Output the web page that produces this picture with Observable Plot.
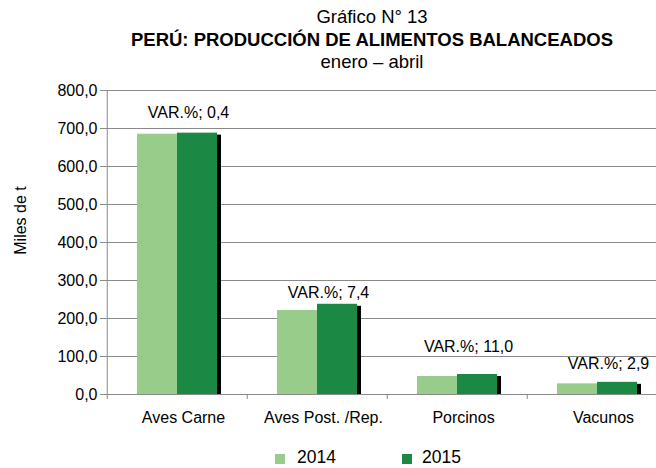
<!DOCTYPE html>
<html><head><meta charset="utf-8">
<script src="https://cdn.jsdelivr.net/npm/d3@7"></script>
<script src="https://cdn.jsdelivr.net/npm/@observablehq/plot@0.6"></script>
<style>
body{margin:0;background:#fff;font-family:"Liberation Sans",Arial,sans-serif;color:#000;}
#wrap{position:relative;width:656px;height:468px;overflow:hidden;background:#fff;}
.t{position:absolute;left:0;width:744px;text-align:center;white-space:nowrap;line-height:20px;font-size:18.5px;}
#chart{position:absolute;left:0;top:75px;}
#legend{position:absolute;top:449px;left:0;width:656px;height:17px;font-size:17.5px;line-height:17px;}
.sw{position:absolute;top:5px;width:10px;height:10px;}
.lt{position:absolute;top:0;}
</style></head><body>
<div id="wrap">
  <div class="t" id="t1" style="top:7px;">Gráfico N° 13</div>
  <div class="t" id="t2" style="top:30px;font-weight:bold;">PERÚ: PRODUCCIÓN DE ALIMENTOS BALANCEADOS</div>
  <div class="t" id="t3" style="top:52px;">enero – abril</div>
  <div id="chart"></div>
  <div id="legend"></div>
</div>
<script>
const categories = ["Aves Carne", "Aves Post. /Rep.", "Porcinos", "Vacunos"];
const series = ["2014", "2015"];
const values2014 = [685.0, 221.0, 47.4, 28.0];
const values2015 = [687.8, 237.4, 52.6, 32.0];
const variation = [0.4, 7.4, 11.0, 2.9];
const varLabelAt = [740, 268, 126, 81];
const yTicks = [0, 100, 200, 300, 400, 500, 600, 700, 800];

const colors = {"2014": "#97cc8b", "2015": "#1b8944"};
const grey = "#8a8a8a";

const data = categories.map((c, i) => ({
  cat: c, v2014: values2014[i], v2015: values2015[i], varp: variation[i], labelAt: varLabelAt[i]
}));
const fmt = v => v.toFixed(1).replace(".", ",");

const chart = Plot.plot({
  width: 656,
  height: 359,
  marginTop: 15,
  marginLeft: 106,
  marginRight: 0,
  marginBottom: 40,
  style: {fontFamily: "Liberation Sans, Arial, sans-serif", fontSize: "16px", color: "#000", background: "#fff"},
  x: {domain: categories, range: [106, 668], paddingInner: 0.4306, paddingOuter: 0.2153, label: null},
  y: {domain: [0, 800], label: null},
  marks: [
    Plot.gridY(yTicks, {stroke: grey, strokeOpacity: 1}),
    Plot.barY(data, {x: "cat", y: "v2015", fill: "#000", insetLeft: 40, insetTop: 2, dx: 4}),
    Plot.barY(data, {x: "cat", y: "v2014", fill: colors["2014"], insetRight: 40}),
    Plot.barY(data, {x: "cat", y: "v2015", fill: colors["2015"], insetLeft: 40}),
    Plot.ruleY([0], {stroke: grey}),
    Plot.ruleX([categories[0]], {dx: -70.25, stroke: grey}),
    Plot.ruleX(categories, {x: d => d, y1: 0, y2: 0, insetBottom: -5, dx: -70.25, stroke: grey}),
    Plot.ruleX([categories[categories.length-1]], {y1: 0, y2: 0, insetBottom: -5, dx: 70.25, stroke: grey}),
    Plot.axisY(yTicks, {tickFormat: fmt, tickSize: 6, tickPadding: 3, stroke: grey, fill: "#000", fontSize: 16, label: null}),
    Plot.axisX({tickSize: 0, tickPadding: 17, dx: 6, fill: "#000", fontSize: 16, label: null}),
    Plot.text(data, {x: "cat", y: "labelAt", text: d => "VAR.%; " + fmt(d.varp), dx: 11, fill: "#000", fontSize: 16}),
    Plot.text(["Miles de t"], {frameAnchor: "left", textAnchor: "middle", dx: -86, dy: -22, rotate: -90, fill: "#000", fontSize: 16})
  ]
});
document.getElementById("chart").appendChild(chart);

const legend = document.getElementById("legend");
const legendPos = [{sw: 275, tx: 297}, {sw: 402, tx: 422}];
series.forEach((s, i) => {
  const sw = document.createElement("div");
  sw.className = "sw"; sw.style.left = legendPos[i].sw + "px"; sw.style.background = colors[s];
  const tx = document.createElement("div");
  tx.className = "lt"; tx.style.left = legendPos[i].tx + "px"; tx.textContent = s;
  legend.appendChild(sw); legend.appendChild(tx);
});
</script>
</body></html>
